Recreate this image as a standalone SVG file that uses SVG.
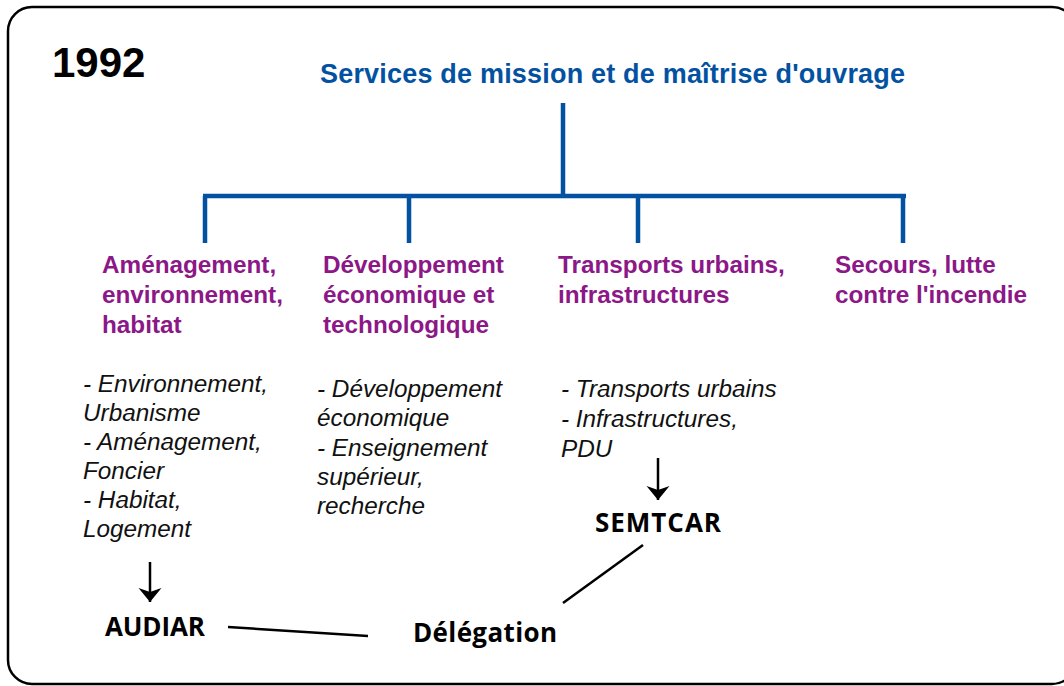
<svg xmlns="http://www.w3.org/2000/svg" width="1064" height="686" viewBox="0 0 1064 686">
<style>
.frame{fill:#fff;stroke:#000;stroke-width:2.5}
.year{font-family:"Liberation Sans",Arial,sans-serif;font-weight:bold;font-size:42px;fill:#000}
.title{font-family:"Liberation Sans",Arial,sans-serif;font-weight:bold;font-size:27px;fill:#0352a2}
.head{font-family:"Liberation Sans",Arial,sans-serif;font-weight:bold;font-size:24.3px;fill:#8c1787}
.item{font-family:"Liberation Sans",Arial,sans-serif;font-style:italic;font-size:24.3px;fill:#111}
.org{font-family:"Open Sans","Liberation Sans",sans-serif;font-weight:bold;font-size:26px;fill:#000}
.tree{fill:none;stroke:#0352a2;stroke-width:4.5}
.link{fill:none;stroke:#000;stroke-width:2.5}
</style>
<defs>
<marker id="arr" viewBox="-15 -12 16 24" refX="0" refY="0" markerWidth="16" markerHeight="24" markerUnits="userSpaceOnUse" orient="auto">
<path d="M-14,-11.5 L0,0 L-14,11.5 L-10,0 Z" fill="#000"/>
</marker>
</defs>
<rect class="frame" x="8" y="7" width="1068" height="677" rx="24"/>
<g id="year"><text class="year" x="52" y="77">1992</text></g>
<g id="services"><text class="title" x="320" y="83" textLength="585">Services de mission et de maîtrise d'ouvrage</text></g>
<g id="connectors">
<path class="tree" d="M563,103 V196 M203,196 H906 M205,196 V243 M409,196 V243 M638,196 V243 M903,196 V243"/>
<line class="link" x1="150" y1="562" x2="150" y2="602" marker-end="url(#arr)"/>
<line class="link" x1="658" y1="458" x2="658" y2="500" marker-end="url(#arr)"/>
<line class="link" x1="228" y1="627" x2="368" y2="636"/>
<line class="link" x1="563" y1="603" x2="643" y2="545"/>
</g>
<g id="amenagement">
<text class="head" x="102" y="273">Aménagement,</text>
<text class="head" x="102" y="303">environnement,</text>
<text class="head" x="102" y="333">habitat</text>
<text class="item" x="83" y="392">- Environnement,</text>
<text class="item" x="83" y="421">Urbanisme</text>
<text class="item" x="83" y="450">- Aménagement,</text>
<text class="item" x="83" y="479">Foncier</text>
<text class="item" x="83" y="508">- Habitat,</text>
<text class="item" x="83" y="537">Logement</text>
</g>
<g id="developpement">
<text class="head" x="323" y="273">Développement</text>
<text class="head" x="323" y="303">économique et</text>
<text class="head" x="323" y="333">technologique</text>
<text class="item" x="317" y="397">- Développement</text>
<text class="item" x="317" y="426">économique</text>
<text class="item" x="317" y="456">- Enseignement</text>
<text class="item" x="317" y="485">supérieur,</text>
<text class="item" x="317" y="514">recherche</text>
</g>
<g id="transports">
<text class="head" x="558" y="273">Transports urbains,</text>
<text class="head" x="558" y="303">infrastructures</text>
<text class="item" x="561" y="397">- Transports urbains</text>
<text class="item" x="561" y="427">- Infrastructures,</text>
<text class="item" x="561" y="457">PDU</text>
</g>
<g id="secours">
<text class="head" x="835" y="273">Secours, lutte</text>
<text class="head" x="835" y="303">contre l'incendie</text>
</g>
<g id="semtcar"><text class="org" x="595" y="532" textLength="126">SEMTCAR</text></g>
<g id="audiar"><text class="org" x="105" y="636" textLength="100">AUDIAR</text></g>
<g id="delegation"><text class="org" x="413" y="642" textLength="144">Délégation</text></g>
</svg>
